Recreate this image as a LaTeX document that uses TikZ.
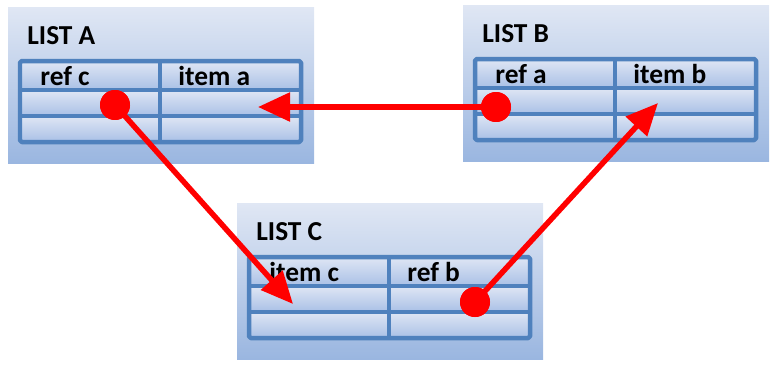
\documentclass[tikz,border=0pt]{standalone}
\usepackage{fontspec}
\setmainfont{Carlito}
\usetikzlibrary{arrows.meta}
\definecolor{tabblue}{HTML}{4F81BD}
\definecolor{paneltop}{HTML}{E0E7F4}
\definecolor{panelbot}{HTML}{9AB6E0}
\definecolor{celltop}{HTML}{DFE6F4}
\definecolor{cellbot}{HTML}{A9C0E6}
\tikzset{
  panel/.style={top color=paneltop, bottom color=panelbot, draw=none},
  cell/.style={top color=celltop, bottom color=cellbot, draw=none},
  grid line/.style={draw=tabblue, line width=0.09cm, line join=round},
  label/.style={anchor=base west, inner sep=0pt, font=\fontsize{15.6}{18}\selectfont\bfseries},
  dot/.style={circle, fill=red, inner sep=0pt, minimum size=0.6cm},
  link/.style={draw=red, line width=0.11cm, -{Triangle[length=0.64cm,width=0.56cm]}},
}
% one list: #1 name, (#2,#3) top left of panel, #4 title, #5 #6 headers
\newcommand{\listpanel}[6]{%
  \begin{scope}[shift={(#2,#3)}]
    \shade[panel] (0,0) rectangle (306,156);
    \node[label] (#1title) at (19,37) {#4};
    \foreach \y/\h in {54/29,83/26,109/26} {
      \shade[cell] (12,\y) rectangle (152,\y+\h);
      \shade[cell] (152,\y) rectangle (293,\y+\h);
    }
    \draw[grid line, rounded corners=1pt] (12,54) rectangle (293,135);
    \draw[grid line] (152,54) -- (152,135);
    \draw[grid line] (12,83) -- (293,83);
    \draw[grid line] (12,109) -- (293,109);
    \node[label] (#1left) at (32,78) {#5};
    \node[label] (#1right) at (170,78) {#6};
  \end{scope}}

\begin{document}
\begin{tikzpicture}[x=0.02cm, y=-0.02cm]
\useasboundingbox (0,0) rectangle (776,365);

\listpanel{a}{8}{7}{LIST A}{ref c}{item a}
\listpanel{b}{463}{5}{LIST B}{ref a}{item b}
\listpanel{c}{237}{203}{LIST C}{item c}{ref b}

% references
\node[dot] (refc) at (115,105) {};
\node[dot] (refa) at (496,107) {};
\node[dot] (refb) at (475,302) {};
\coordinate (itema) at (258,107);
\coordinate (itemb) at (658,103);
\coordinate (itemc) at (293,304);

\draw[link] (refa.center) -- (itema);
\draw[link] (refc.center) -- (itemc);
\draw[link] (refb.center) -- (itemb);
\node[dot] at (refa) {};
\node[dot] at (refc) {};
\node[dot] at (refb) {};
\end{tikzpicture}
\end{document}
